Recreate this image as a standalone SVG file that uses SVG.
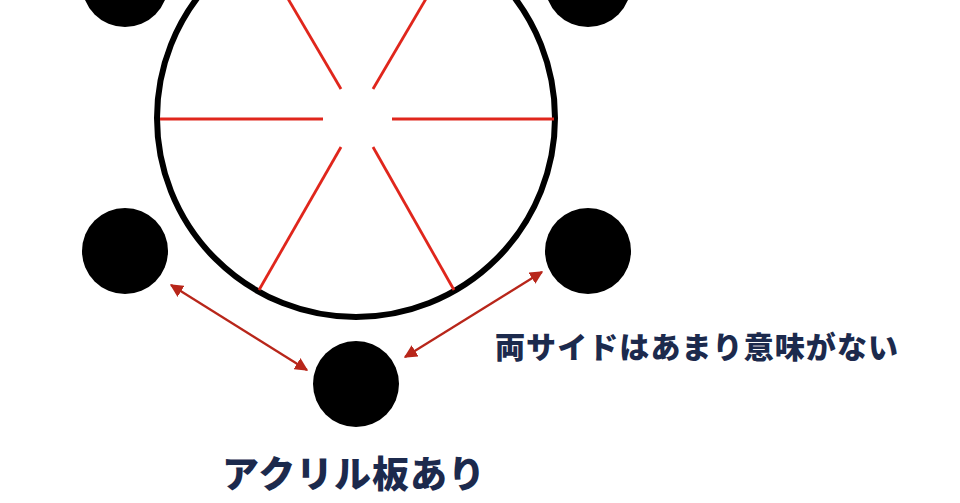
<svg xmlns="http://www.w3.org/2000/svg" width="960" height="503" viewBox="0 0 960 503">
<defs>
<style>
.dot{fill:#000}
.spoke{stroke:#e0261c;stroke-width:2.8;fill:none}
.arr{stroke:#b8261a;stroke-width:2.2;fill:none;marker-start:url(#ah);marker-end:url(#ah)}
.lbl{font-family:"Noto Sans CJK JP","Noto Sans",sans-serif;font-weight:900;fill:#1c2a4d}
</style>
<marker id="ah" viewBox="0 0 10 10" refX="9" refY="5" markerWidth="6" markerHeight="6" orient="auto-start-reverse" markerUnits="strokeWidth">
<path d="M0,0 L10,5 L0,10 z" fill="#b8261a"/>
</marker>
</defs>
<rect width="960" height="503" fill="#fff"/>
<g id="wheel">
<circle cx="356" cy="118" r="199" fill="none" stroke="#000" stroke-width="6"/>
<line class="spoke" x1="160" y1="119" x2="323" y2="119"/>
<line class="spoke" x1="392" y1="119" x2="554" y2="119"/>
<line class="spoke" x1="341" y1="89" x2="257" y2="-54"/>
<line class="spoke" x1="373" y1="89" x2="457" y2="-54"/>
<line class="spoke" x1="341" y1="147" x2="259" y2="290"/>
<line class="spoke" x1="373" y1="147" x2="454" y2="290"/>
</g>
<g id="dot-top-left"><circle class="dot" cx="125" cy="-16" r="43"/></g>
<g id="dot-top-right"><circle class="dot" cx="588" cy="-16" r="43"/></g>
<g id="dot-left"><circle class="dot" cx="125" cy="251" r="43"/></g>
<g id="dot-right"><circle class="dot" cx="588" cy="251" r="43"/></g>
<g id="dot-bottom"><circle class="dot" cx="356" cy="384" r="43"/></g>
<g id="connectors">
<line class="arr" x1="171" y1="285" x2="307" y2="370"/>
<line class="arr" x1="542" y1="272" x2="405" y2="357"/>
</g>
<g id="label-sides"><text class="lbl" x="495" y="358" font-size="30" textLength="403" lengthAdjust="spacing">両サイドはあまり意味がない</text></g>
<g id="label-acrylic"><text class="lbl" x="222" y="488" font-size="37" textLength="263" lengthAdjust="spacing">アクリル板あり</text></g>
</svg>
